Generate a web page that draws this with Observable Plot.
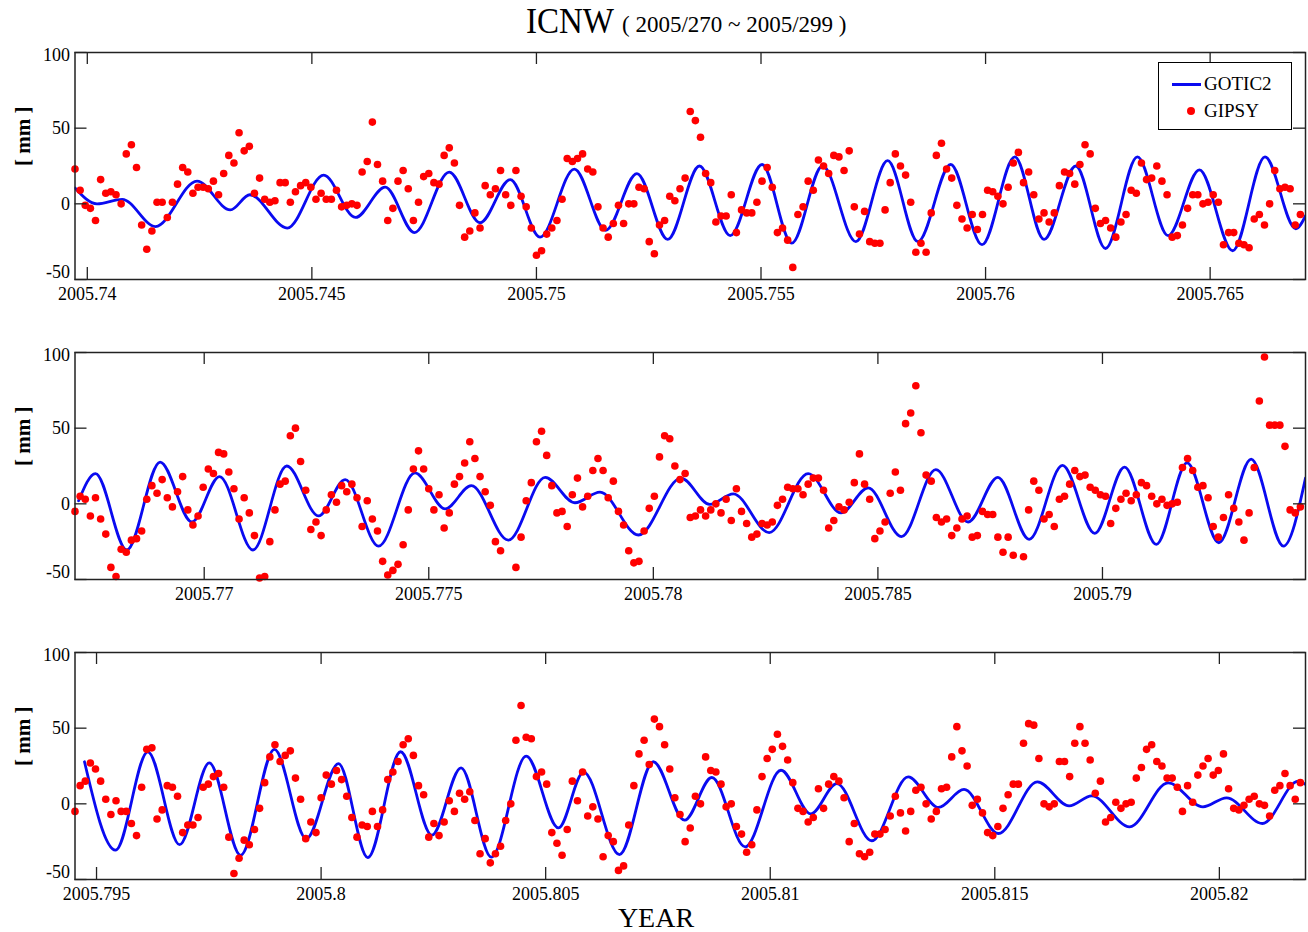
<!DOCTYPE html>
<html>
<head>
<meta charset="utf-8">
<script src="https://cdn.jsdelivr.net/npm/d3@7"></script>
<script src="https://cdn.jsdelivr.net/npm/@observablehq/plot@0.6"></script>
<style>
  html, body { margin: 0; padding: 0; background: #fff; }
  #wrap { position: relative; width: 1308px; height: 932px; font-family: "Liberation Serif", "Times New Roman", serif; color: #000; overflow: hidden; }
  .panel { position: absolute; left: 0; }
  #title { position: absolute; left: 526px; top: 5px; white-space: nowrap; line-height: 1; }
  #title .big { font-size: 33px; display: inline-block; transform: scaleY(1.1); }
  #title .small { font-size: 23px; margin-left: 8px; }
  #xlabel { position: absolute; left: 0; width: 1312px; top: 904px; text-align: center; font-size: 28px; line-height: 1; }
  #legend { position: absolute; left: 1158px; top: 62px; width: 134px; height: 68px; border: 1.5px solid #000; background: #fff; box-sizing: border-box; font-size: 19px; }
  #legend .row { position: absolute; left: 0; height: 20px; width: 100%; }
  #legend .lab { position: absolute; left: 45px; top: 0; line-height: 20px; }
  #legend .ln { position: absolute; left: 13px; top: 9px; width: 29px; height: 3px; background: #0a0af0; }
  #legend .dt { position: absolute; left: 28px; top: 6px; width: 8px; height: 8px; border-radius: 50%; background: #ff0000; }
</style>
</head>
<body>
<div id="wrap">
  <div id="title"><span class="big">ICNW</span><span class="small">( 2005/270 ~ 2005/299 )</span></div>
  <div id="xlabel">YEAR</div>
</div>
<script>
// ---------- DATA ----------
const seriesNames = ["GOTIC2", "GIPSY"];
const panelStartDays = [270, 280, 290];          // day of year 2005, each panel spans 10 days
const yTicks = [-50, 0, 50, 100];
const xTicks1 = [2005.74, 2005.745, 2005.75, 2005.755, 2005.76, 2005.765];
const xTicks2 = [2005.77, 2005.775, 2005.78, 2005.785, 2005.79];
const xTicks3 = [2005.795, 2005.8, 2005.805, 2005.81, 2005.815, 2005.82];

// GIPSY hourly solutions (mm), hour 0..239 after panel start
const gipsy1 = [23,9,-1,-3,-11,16,7,8,6,0, 33,39,24,-14,-30,-18,1,1,-9,1,
  13,24,21,7,11,11,10,15,6,20, 32,27,47,35,38,7,17,3,1,2,
  14,14,1,8,12,14,11,3,7,3, 3,9,-2,-1,0,-1,21,28,54,26,
  15,-11,-3,15,22,10,-11,1,18,20, 14,13,32,37,27,-1,-22,-18,-6,-16,
  12,6,10,22,6,-1,22,5,-2,-16, -34,-31,-20,-16,-11,3,30,28,30,33,
  23,21,-2,-16,-22,-13,-1,-13,0,0, 11,10,-25,-33,-14,-11,5,2,10,17,
  61,55,44,20,14,-12,-8,-8,6,-19, -4,-6,-6,1,15,24,11,-19,-16,-24,
  -42,-7,-2,15,9,29,25,20,32,31, 22,35,-2,-20,-5,-25,-26,-26,-4,14,
  33,25,19,1,-32,-26,-32,-6,32,40, 23,17,-1,-10,-16,-7,-17,-7,9,8,
  5,0,11,27,34,14,21,6,-10,-6, -12,-6,12,21,20,13,26,39,33,-3,
  -13,-11,-16,-22,-12,-7,9,7,27,16, 17,25,15,6,-22,-21,-14,-3,6,6,
  0,1,6,1,-27,-19,-19,-26,-27,-29, -10,-7,-14,0,22,10,11,10,-14,-7];
const gipsy2 = [-5,5,3,-8,4,-10,-20,-42,-48,-30, -32,-24,-23,-18,3,12,7,16,4,-2,
  8,18,-4,-14,-8,11,23,20,34,33, 21,10,-10,4,-6,-21,-49,-48,-25,-4,
  13,15,45,50,28,9,-17,-12,-21,-4, 6,1,12,8,13,4,-15,2,-10,-18,
  -38,-47,-44,-40,-27,-4,23,35,23,10, -4,6,-16,-6,13,18,27,41,30,18,
  8,-1,-25,-31,null,null,-42,-22,2,14, 41,48,32,12,-6,-5,-15,6,17,-2,
  5,22,30,22,4,15,-5,-14,-31,-39, -38,-18,-3,5,31,45,43,25,16,20,
  -9,-8,-4,-8,-4,0,-6,3,-11,10, -5,-13,-22,-20,-13,-14,-12,-1,3,11,
  10,10,6,13,17,17,9,-16,-11,-2, -4,1,14,33,13,3,-23,-18,-12,7,
  21,9,53,60,78,47,19,15,-9,-12, -10,-21,-16,-10,-8,-22,-21,-5,-7,-7,
  -22,-32,-22,-34,null,-35,-4,15,9,-10, -7,-15,3,5,13,22,18,19,11,9,
  6,5,-13,-3,3,7,2,6,14,12, 5,0,3,-1,0,1,24,30,22,11,
  12,4,-15,-22,-9,6,-3,-12,-24,-6, 24,68,97,52,52,52,38,-4,-6,-2];
const gipsy3 = [-5,12,15,27,23,15,3,-7,2,-5, -5,-13,-21,11,36,37,-10,-4,12,11,
  5,-19,-14,-14,-9,11,13,18,20,11, -22,-46,-36,-24,-27,-17,-3,14,31,39,
  28,32,35,17,3,-23,-12,-19,4,19, 13,22,16,5,-9,-22,-14,-15,-5,-15,
  -4,16,21,28,39,43,32,12,6,-22, -13,-21,-12,2,-5,7,3,8,-11,-33,
  -23,-39,-33,-28,-11,0,42,65,44,43, 18,21,13,-19,-26,-34,-17,15,2,21,
  -8,-2,-10,-35,-21,-25,-44,-41,-14,12, 33,42,26,56,51,39,23,4,-7,-25,
  -16,5,0,31,22,21,13,-2,0,-15, -20,-32,-27,-4,18,30,36,46,38,29,
  14,-3,-5,-12,-9,10,-3,13,18,15, 4,-25,-13,-33,-35,-32,-20,-20,-17,-8,
  5,-6,-18,-5,9,11,0,-10,-5,10, 11,31,51,35,25,-1,3,-6,-19,-21,
  -15,-3,6,13,13,40,53,52,30,0, -2,0,28,28,18,40,51,40,29,7,
  15,-12,-9,1,-3,0,1,17,24,36, 39,28,25,17,17,11,-5,12,1,19,
  25,30,19,22,33,10,-3,-4,-1,3, 5,0,-1,-8,9,12,20,12,3,14];

// GOTIC2 model: turning points (hours after panel start, mm)
const gotic1Hours = [0,4.3,9.2,15.7,23.8,30.3,34.1,41.4,48.5,54.7,60.5,66.2,73,79,84.9,90.7,97.4,103.5,109.6,115.6,121.8,127.8,134,139.8,145.8,152.3,158.5,164.4,170.8,176.9,183.3,189,195.2,201,207.2,213.2,219.3,225.8,232.1,238.1,240];
const gotic1Values = [10.5,0,3,-15,15,-4,6,-16,19,-9,11,-19,21,-12.5,16,-22,23,-17.5,20,-23.5,25,-21,26,-26,25,-25,28.5,-25,26,-27,31,-23.5,25,-29.5,31,-21,22.5,-31,31,-16.5,-8];
const gotic2Hours = [0.7,4,10.1,16.6,22.8,28.2,34.7,41.3,47.5,52.7,59.2,66.3,72.2,77.3,84.5,91.7,97.5,102.4,109.9,118.2,123.8,128.4,135.4,143,149.4,154.7,161.2,167.9,174.2,180,186.1,192.6,198.9,204.7,210.9,216.9,223.1,229.4,235.7,240];
const gotic2Values = [2,20,-30.5,27.6,-12,18,-30.5,25,-8,16,-28,20.4,-3.3,12,-24,17.5,0.7,7.7,-20.6,17,-0.4,6.6,-19,20,-6,10.5,-21.7,22.6,-12,17.5,-23.5,25.4,-19.5,24.3,-26.8,27,-25.7,29.6,-27.9,17];
const gotic3Hours = [1.85,7.9,14.2,20.4,26.2,32.3,38.9,45.1,51.4,57.1,63.5,69.6,75.3,81.2,88,94.3,99.2,106.2,112.8,118.9,124.2,130.7,137.7,143.5,148.6,155.4,162.5,168.4,173.4,180.1,187.7,193.9,198.3,205.7,213.2,220,224.6,231.6,238.6,240];
const gotic3Values = [27.8,-30.6,34.4,-27,27,-34,36,-23,26.6,-35.5,34.4,-20.7,23.8,-35.2,31.5,-15.9,21,-33.5,27.8,-10.8,17.4,-28.4,22.2,-6.6,13.4,-24.4,17.8,-2.4,9.5,-19.6,14.5,-1.3,5.3,-15.2,13.9,-2,4,-13,15,12.8];

// ---------- DRAW ----------
const W = 1308, H = 267, MT = 10, MB = 30, ML = 74.5, MR = 3;
const FH = H - MT - MB, FW = W - ML - MR, TICK = 12;
const BLUE = "#0a0af0", RED = "#ff0000";
const SERIF = "'Liberation Serif', 'Times New Roman', serif";

function makePanel(startDay, ticks, gipsy, gHours, gValues) {
  const toYear = h => 2005 + (startDay + h / 24) / 365;
  const dots = gipsy.map((v, i) => ({t: toYear(i), v})).filter(d => d.v !== null);
  const line = gHours.map((h, k) => ({t: toYear(h), v: gValues[k]}));
  const fmtX = d => String(+d.toFixed(3));
  const axisStyle = {tickSize: 0, tickFormat: d => String(d), label: null, fontSize: 18, fontFamily: SERIF};
  return Plot.plot({
    width: W, height: H, marginTop: MT, marginBottom: MB, marginLeft: ML, marginRight: MR,
    style: {fontFamily: SERIF, fontSize: "18px", color: "#000", background: "transparent", overflow: "visible"},
    x: {domain: [toYear(0), toYear(240)]},
    y: {domain: [-50, 100]},
    marks: [
      Plot.line(line, {x: "t", y: "v", curve: "monotone-x", stroke: BLUE, strokeWidth: 2.8, clip: true}),
      Plot.dot(dots, {x: "t", y: "v", r: 3.8, fill: RED, stroke: "none"}),
      Plot.frame({stroke: "#222", strokeWidth: 1.5}),
      Plot.tickX(ticks, {x: d => d, insetTop: FH - TICK, stroke: "#222", strokeWidth: 1.3}),
      Plot.tickX(ticks, {x: d => d, insetBottom: FH - TICK, stroke: "#222", strokeWidth: 1.3}),
      Plot.tickY(yTicks, {y: d => d, insetRight: FW - TICK, stroke: "#222", strokeWidth: 1.3}),
      Plot.tickY(yTicks, {y: d => d, insetLeft: FW - TICK, stroke: "#222", strokeWidth: 1.3}),
      Plot.axisX(ticks, {tickSize: 0, tickPadding: 8, tickFormat: fmtX, label: null, fontSize: 18, fontFamily: SERIF}),
      Plot.axisY([0, 50], {...axisStyle, tickPadding: 5}),
      Plot.axisY([100], {...axisStyle, tickPadding: 5, dy: 3}),
      Plot.axisY([-50], {...axisStyle, tickPadding: 5, dy: -7}),
      Plot.text(["[ mm ]"], {text: d => d, frameAnchor: "left", dx: -52, rotate: -90, fontSize: 21, fontWeight: "bold", fontFamily: SERIF})
    ]
  });
}

const wrap = document.getElementById("wrap");
const panels = [
  makePanel(panelStartDays[0], xTicks1, gipsy1, gotic1Hours, gotic1Values),
  makePanel(panelStartDays[1], xTicks2, gipsy2, gotic2Hours, gotic2Values),
  makePanel(panelStartDays[2], xTicks3, gipsy3, gotic3Hours, gotic3Values)
];
const tops = [42, 342, 642];
panels.forEach((p, k) => {
  p.classList.add("panel");
  p.style.top = tops[k] + "px";
  wrap.appendChild(p);
});

// legend
const legend = document.createElement("div");
legend.id = "legend";
legend.innerHTML =
  `<div class="row" style="top:11px"><div class="ln"></div><div class="lab">${seriesNames[0]}</div></div>` +
  `<div class="row" style="top:38px"><div class="dt"></div><div class="lab">${seriesNames[1]}</div></div>`;
wrap.appendChild(legend);
</script>
</body>
</html>
